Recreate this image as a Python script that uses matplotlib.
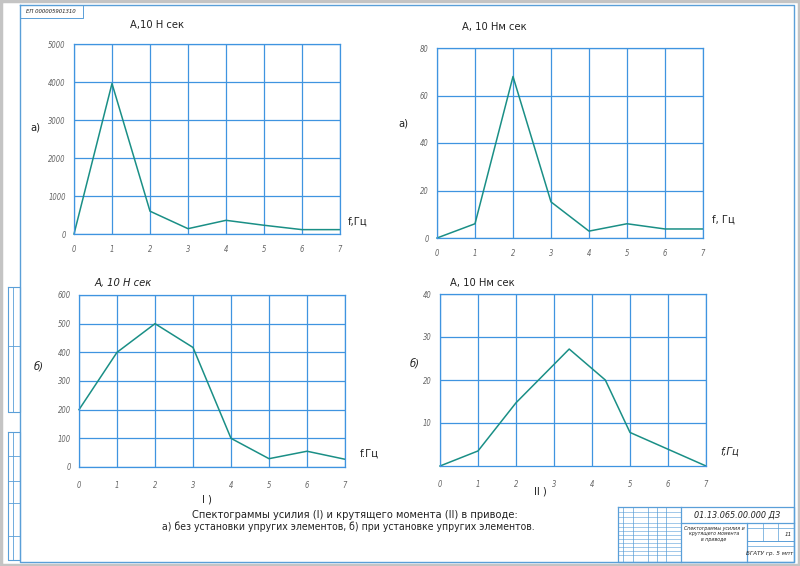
import matplotlib
matplotlib.use("Agg")
from matplotlib import pyplot as plt
import numpy as np

plt.rcParams['font.family'] = ['DejaVu Sans']
plt.rcParams['font.stretch'] = 'condensed'

# spectrogram data
f_force_a = [0, 1, 2, 3, 4, 5, 6, 7]
A_force_a = [0, 3960, 600, 140, 360, 230, 115, 115]

f_torque_a = [0, 1, 2, 3, 4, 5, 6, 7]
A_torque_a = [0, 6.0, 68, 15.2, 2.9, 6.0, 3.8, 3.8]

f_force_b = [0, 1, 2, 3, 4, 5, 6, 7]
A_force_b = [200, 400, 500, 417, 100, 29, 55, 27]

f_torque_b = [0, 1, 2, 3.4, 4.35, 5, 7]
A_torque_b = [0, 3.5, 14.7, 27.2, 20, 7.8, 0]

yt_force_a = [0, 1000, 2000, 3000, 4000, 5000]
yt_torque_a = [0, 20, 40, 60, 80]
yt_force_b = [0, 100, 200, 300, 400, 500, 600]
yt_torque_b = [10, 20, 30, 40]
xt = [0, 1, 2, 3, 4, 5, 6, 7]

LINE = '#1a8f86'
GRID = '#3f94e0'
FRAME = '#5a9fd8'
TXT = '#222222'
TICK = '#666666'

W, H = 800, 566
fig = plt.figure(figsize=(8, 5.66), dpi=100)

# sheet decoration drawn in pixel coordinates
deco = fig.add_axes([0, 0, 1, 1], zorder=0)
deco.set_xlim(0, W)
deco.set_ylim(H, 0)
deco.axis('off')

def box(x0, y0, x1, y1, c=FRAME, lw=0.8):
    deco.plot([x0, x1, x1, x0, x0], [y0, y0, y1, y1, y0], color=c, lw=lw)

def hl(x0, x1, y, c=FRAME, lw=0.6):
    deco.plot([x0, x1], [y, y], color=c, lw=lw)

def vl(x, y0, y1, c=FRAME, lw=0.6):
    deco.plot([x, x], [y0, y1], color=c, lw=lw)

box(1, 1, 799, 565, c='#c4c4c4', lw=2.5)
box(20, 5, 794, 562, lw=1.0)
box(20, 5, 83, 18, lw=0.7)
deco.text(51, 11.5, 'ЕП 000005901310', fontsize=4.3, style='italic', color=TXT,
          ha='center', va='center')

# left margin stamps
box(8, 287, 20, 412)
vl(13, 287, 412)
hl(8, 20, 346)
box(8, 432, 20, 560)
vl(13, 432, 560)
for yy in [456, 481, 503, 536]:
    hl(8, 20, yy)

# title block
box(618, 507, 794, 562, lw=0.9)
for xx in [623, 633, 648, 657, 666]:
    vl(xx, 507, 562, lw=0.5)
vl(681, 507, 562, lw=0.9)
for yy in [512, 517, 523, 527, 531, 535, 539, 543, 547, 551, 555]:
    hl(618, 681, yy, lw=0.4)
hl(681, 794, 523, lw=0.9)
vl(747, 523, 562, lw=0.9)
hl(747, 794, 541, lw=0.7)
hl(747, 794, 528, lw=0.5)
vl(763, 523, 541, lw=0.5)
vl(778, 523, 541, lw=0.5)
hl(747, 794, 546, lw=0.5)
deco.text(737, 515, '01.13.065.00.000 ДЗ', fontsize=6.5, style='italic', color=TXT,
          ha='center', va='center')
deco.text(714, 534, 'Спектограммы усилия и\nкрутящего момента\nв приводе', fontsize=3.8,
          style='italic', color=TXT, ha='center', va='center', linespacing=1.1)
deco.text(770, 554, 'БГАТУ гр. 5 мпт', fontsize=4.6, style='italic', color=TXT,
          ha='center', va='center')
deco.text(788, 534, '11', fontsize=4.5, style='italic', color=TXT, ha='center', va='center')


def chart(rect, x, y, yticks, ymax, title, title_xy, title_style, side, side_xy,
          side_style, flab, flab_xy, flab_style, xlab_pad):
    l, t, r, b = rect
    ax = fig.add_axes([l / W, 1 - b / H, (r - l) / W, (b - t) / H], zorder=2)
    ax.plot(x, y, color=LINE, lw=1.1, clip_on=False)
    ax.set_xlim(0, 7)
    ax.set_ylim(0, ymax)
    ax.set_xticks(xt)
    ax.set_yticks(yticks)
    ax.set_xticklabels([str(v) for v in xt], fontstyle='italic')
    ax.set_yticklabels([str(v) for v in yticks], fontstyle='italic')
    ax.tick_params(length=0, labelsize=5.5, labelcolor=TICK)
    ax.tick_params(axis='x', pad=xlab_pad)
    ax.tick_params(axis='y', pad=6)
    ax.grid(True, color=GRID, lw=0.9)
    ax.set_axisbelow(True)
    for s in ax.spines.values():
        s.set_color(GRID)
        s.set_linewidth(0.9)
    deco.text(*title_xy, title, fontsize=8, style=title_style, color=TXT, va='center')
    deco.text(*side_xy, side, fontsize=8, style=side_style, color=TXT, va='center')
    deco.text(*flab_xy, flab, fontsize=8, style=flab_style, color=TXT, va='center')
    return ax


chart((74, 44, 340, 234), f_force_a, A_force_a, yt_force_a, 5000,
      'А,10 Н сек', (130, 25), 'normal', 'а)', (30, 127), 'normal',
      'f,Гц', (348, 222), 'normal', 8)
chart((437, 48, 703, 238), f_torque_a, A_torque_a, yt_torque_a, 80,
      'А, 10 Нм сек', (462, 27), 'normal', 'а)', (398, 124), 'normal',
      'f, Гц', (712, 220), 'normal', 8)
chart((79, 295, 345, 467), f_force_b, A_force_b, yt_force_b, 600,
      'А, 10 Н сек', (95, 283), 'italic', 'б)', (34, 366), 'italic',
      'f.Гц', (360, 454), 'normal', 10)
chart((440, 294, 706, 466), f_torque_b, A_torque_b, yt_torque_b, 40,
      'А, 10 Нм сек', (450, 283), 'normal', 'б)', (410, 363), 'italic',
      'f,Гц', (720, 452), 'italic', 10)

deco.text(207, 499, 'I )', fontsize=8, color=TXT, ha='center', va='center')
deco.text(540, 491, 'II )', fontsize=8, color=TXT, ha='center', va='center')
deco.text(355, 515, 'Спектограммы усилия (I) и крутящего момента (II) в приводе:',
          fontsize=7.9, color=TXT, ha='center', va='center')
deco.text(348, 527, 'а) без установки упругих элементов, б) при установке упругих элементов.',
          fontsize=7.5, color=TXT, ha='center', va='center')

fig.savefig('out.png', dpi=100)
